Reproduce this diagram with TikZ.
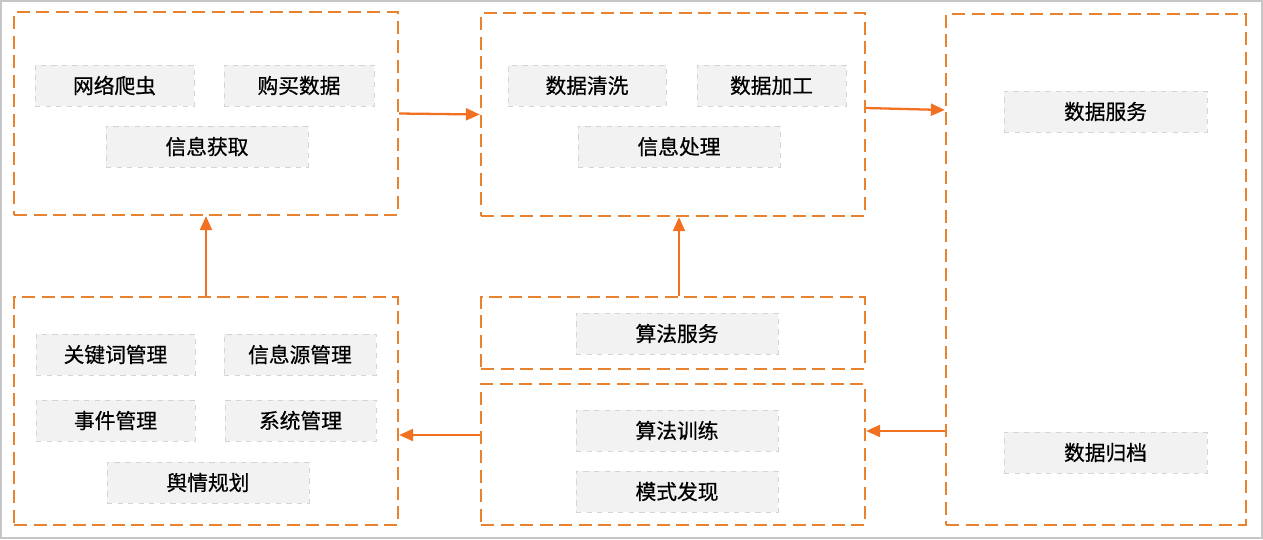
\documentclass[tikz,border=0pt]{standalone}
\usepackage{fontspec}
\setmainfont{Noto Sans CJK SC}
\newfontfamily\itemfont{Noto Sans CJK SC}[FakeBold=0.6]
\usetikzlibrary{arrows.meta,positioning}
\definecolor{boxorange}{HTML}{E8822E}
\definecolor{arroworange}{HTML}{F27022}
\definecolor{itemgray}{HTML}{F2F2F2}
\definecolor{itemline}{HTML}{D4D4D4}

\begin{document}
\begin{tikzpicture}[x=0.02cm, y=-0.02cm,
  group/.style={draw=boxorange, line width=1.35pt, dash pattern=on 0.26cm off 0.13cm, inner sep=0pt},
  item/.style={draw=itemline, fill=itemgray, dashed, line width=0.4pt, minimum height=0.82cm, inner sep=0pt, font=\itemfont\fontsize{11.8}{14}\selectfont},
  flow/.style={draw=arroworange, line width=1.3pt, -{Triangle[length=0.28cm, width=0.24cm]}}]
\path[use as bounding box] (0,0) rectangle (1263,539);
\draw[gray!45, line width=0.6pt] (1,1) rectangle (1262,538);
\node[group, minimum width=7.68cm, minimum height=4.06cm] (A) at (206,113.5) {};
\node[group, minimum width=7.68cm, minimum height=4.06cm] (B) at (673,114.5) {};
\node[group, minimum width=6.0cm, minimum height=10.22cm] (C) at (1096,269.5) {};
\node[group, minimum width=7.68cm, minimum height=4.56cm] (D) at (206,411) {};
\node[group, minimum width=7.68cm, minimum height=1.44cm] (E) at (673,333) {};
\node[group, minimum width=7.68cm, minimum height=2.82cm] (F) at (673,454.5) {};
\node[item, minimum width=3.18cm] (crawl) at (114.5,85.5) {网络爬虫};
\node[item, minimum width=3.0cm] (buy) at (299,85.5) {购买数据};
\node[item, minimum width=4.04cm] (acquire) at (207,146.5) {信息获取};
\node[item, minimum width=3.16cm] (clean) at (587,85.5) {数据清洗};
\node[item, minimum width=2.98cm] (process) at (771.5,85.5) {数据加工};
\node[item, minimum width=4.04cm] (handle) at (679,146.5) {信息处理};
\node[item, minimum width=4.06cm] (service) at (1105.5,111.5) {数据服务};
\node[item, minimum width=4.06cm] (archive) at (1105.5,452.5) {数据归档};
\node[item, minimum width=4.04cm] (algo) at (677,333.5) {算法服务};
\node[item, minimum width=4.04cm] (train) at (677,430.5) {算法训练};
\node[item, minimum width=4.04cm] (pattern) at (677,491.5) {模式发现};
\node[item, minimum width=3.18cm] (keyword) at (115.5,354.5) {关键词管理};
\node[item, minimum width=3.04cm] (source) at (300,354.5) {信息源管理};
\node[item, minimum width=3.18cm] (event) at (115.5,420.5) {事件管理};
\node[item, minimum width=3.02cm] (system) at (300.5,420.5) {系统管理};
\node[item, minimum width=4.04cm] (plan) at (208,482.5) {舆情规划};
\draw[flow] (A.east) -- (B.west);
\draw[flow] ([yshift=0.13cm]B.east) -- ([yshift=3.19cm]C.west);
\draw[flow] (D.north) -- (A.south);
\draw[flow] ([xshift=0.12cm]E.north) coordinate (e1) -- (e1 |- B.south);
\draw[flow] ([yshift=-3.23cm]C.west) coordinate (c1) -- (c1 -| F.east);
\draw[flow] ([yshift=0.39cm]F.west) coordinate (f1) -- (f1 -| D.east);
\end{tikzpicture}
\end{document}
